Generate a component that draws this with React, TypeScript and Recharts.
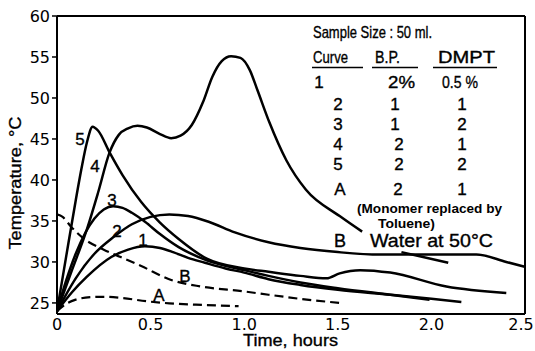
import React from 'react';
import { LineChart, Line, XAxis, YAxis } from 'recharts';

// time (hours), temperature (°C)
const curve1: [number, number][] = [[0,24.0],[0.08,26.3],[0.16,28.2],[0.29,30.6],[0.38,31.5],[0.47,31.9],[0.55,31.7],[0.62,31.2],[0.7,30.5],[0.79,29.9],[0.9,29.2],[1.0,28.7],[1.13,27.9],[1.3,27.2],[1.5,26.6],[1.78,26.0],[2.0,25.5],[2.16,25.1]];
const curve2: [number, number][] = [[0,24.0],[0.1,28.0],[0.2,31.0],[0.3,33.0],[0.4,34.6],[0.5,35.5],[0.6,35.8],[0.7,35.6],[0.81,34.9],[0.95,33.6],[1.13,32.4],[1.3,31.7],[1.5,31.2],[1.72,30.9],[2.0,30.9],[2.24,30.9],[2.4,30.0],[2.5,29.4]];
const curve3: [number, number][] = [[0,24.0],[0.05,27.8],[0.1,31.0],[0.15,33.5],[0.2,35.3],[0.25,36.4],[0.3,36.8],[0.35,36.6],[0.4,36.0],[0.47,34.9],[0.55,33.4],[0.65,31.8],[0.8,30.2],[1.0,29.0],[1.13,28.3],[1.3,27.5],[1.5,26.8],[1.78,26.0],[1.99,25.4]];
const curve4: [number, number | null][] = [[0,24.0],[0.08,29.0],[0.16,34.0],[0.22,38.5],[0.28,43.3],[0.33,45.5],[0.38,46.3],[0.43,46.6],[0.48,46.4],[0.55,45.6],[0.61,45.1],[0.66,45.4],[0.72,46.7],[0.78,49.5],[0.83,52.6],[0.88,54.5],[0.93,55.1],[0.98,54.9],[1.03,53.4],[1.07,51.0],[1.135,47.0],[1.225,42.4],[1.33,38.8],[1.51,35.6],[1.63,33.7],[1.72,null],[1.84,31.2],[2.09,29.9]];
const curve5: [number, number][] = [[0,24.0],[0.05,30.8],[0.1,37.5],[0.13,41.3],[0.16,44.6],[0.19,46.5],[0.22,46.0],[0.28,43.4],[0.35,40.6],[0.45,37.3],[0.55,34.8],[0.65,32.8],[0.8,30.4],[1.0,29.2],[1.13,28.8],[1.3,28.3],[1.44,28.0],[1.51,28.6],[1.62,29.0],[1.78,28.7],[2.08,27.0],[2.4,26.2]];
const curveA: [number, number][] = [[0,24.0],[0.05,24.9],[0.1,25.4],[0.18,25.7],[0.25,25.75],[0.35,25.6],[0.48,25.2],[0.6,24.95],[0.79,24.75],[0.97,24.6]];
const curveB: [number, number][] = [[0,35.8],[0.03,35.5],[0.075,34.3],[0.14,32.9],[0.25,31.5],[0.34,30.6],[0.45,29.5],[0.61,27.8],[0.77,27.0],[1.0,26.4],[1.13,26.0],[1.3,25.5],[1.51,25.0]];

const xTicks = [0, 0.5, 1, 1.5, 2, 2.5];
const xTickLabels = ['0', '0.5', '1.0', '1.5', '2.0', '2.5'];
const yTicks = [25, 30, 35, 40, 45, 50, 55, 60];

const toPts = (arr: [number, number | null][]) => arr.map(([t, T]) => ({ t, T }));

const solid = [curve1, curve2, curve3, curve4, curve5];
const dashed = [curveA, curveB];

const W = 535;
const H = 351;
const X_DOMAIN: [number, number] = [0, 2.5];
const Y_DOMAIN: [number, number] = [23.65, 60];

const tickFont = { fill: '#000', fontSize: 16, fontFamily: 'DejaVu Sans' };
const lineStyle = { stroke: '#000', strokeWidth: 2 };

const XTick = (props: any) => {
  const { x, y, payload, index } = props;
  const label = xTickLabels[xTicks.indexOf(payload.value)] ?? String(payload.value);
  const last = index === xTicks.length - 1;
  return (
    <text x={last ? x - 4 : x} y={y} dy="0.71em" textAnchor="middle" fill="#000" fontSize={16} fontFamily="DejaVu Sans">
      {label}
    </text>
  );
};

const T = (props: any) => (
  <text fontFamily="Liberation Sans, Arial, sans-serif" fontSize={17} fill="#000" stroke="#000" strokeWidth={0.35} {...props} />
);

export default function App() {
  return (
    <div style={{ position: 'absolute', left: 0, top: 0, width: W, height: H, background: '#fff' }}>
      <LineChart width={W} height={H} margin={{ top: 16, right: 10, bottom: 0, left: 0 }}>
        <XAxis
          xAxisId="x"
          dataKey="t"
          type="number"
          domain={X_DOMAIN}
          ticks={xTicks}
          allowDataOverflow
          tickSize={0}
          tickMargin={5}
          height={37}
          axisLine={lineStyle}
          tickLine={false}
          tick={<XTick />}
        />
        <XAxis
          xAxisId="xb"
          dataKey="t"
          type="number"
          domain={X_DOMAIN}
          ticks={xTicks}
          allowDataOverflow
          mirror
          tick={false}
          axisLine={false}
          tickLine={{ stroke: '#000', strokeWidth: 1.5 }}
          tickSize={5}
        />
        <XAxis
          xAxisId="xt"
          orientation="top"
          dataKey="t"
          type="number"
          domain={X_DOMAIN}
          ticks={xTicks}
          allowDataOverflow
          mirror
          tick={false}
          axisLine={lineStyle}
          tickLine={{ stroke: '#000', strokeWidth: 1.5 }}
          tickSize={5}
        />
        <YAxis
          yAxisId="y"
          type="number"
          domain={Y_DOMAIN}
          ticks={yTicks}
          allowDataOverflow
          width={57}
          tickSize={5}
          tickMargin={2}
          axisLine={lineStyle}
          tickLine={{ stroke: '#000', strokeWidth: 1.5 }}
          tick={tickFont}
        />
        <YAxis
          yAxisId="yr"
          orientation="right"
          type="number"
          domain={Y_DOMAIN}
          ticks={yTicks}
          allowDataOverflow
          mirror
          tick={false}
          axisLine={lineStyle}
          tickLine={{ stroke: '#000', strokeWidth: 1.5 }}
          tickSize={5}
        />
        {solid.map((c, i) => (
          <Line
            key={`s${i}`}
            xAxisId="x"
            yAxisId="y"
            data={toPts(c)}
            dataKey="T"
            type="monotone"
            stroke="#000"
            strokeWidth={2.5}
            dot={false}
            connectNulls={false}
            isAnimationActive={false}
          />
        ))}
        {dashed.map((c, i) => (
          <Line
            key={`d${i}`}
            xAxisId="x"
            yAxisId="y"
            data={toPts(c)}
            dataKey="T"
            type="monotone"
            stroke="#000"
            strokeWidth={2.2}
            strokeDasharray="9 5"
            dot={false}
            isAnimationActive={false}
          />
        ))}
      </LineChart>
      <svg width={W} height={H} style={{ position: 'absolute', left: 0, top: 0, pointerEvents: 'none' }}>
        {/* axis titles */}
        <T x={0} y={0} textAnchor="middle" textLength={133} lengthAdjust="spacingAndGlyphs"
          transform="translate(21,183) rotate(-90)">Temperature, °C</T>
        <T x={243} y={346} textLength={95} lengthAdjust="spacingAndGlyphs">Time, hours</T>

        {/* curve labels */}
        <T x={80} y={145} textAnchor="middle">5</T>
        <T x={95} y={172} textAnchor="middle">4</T>
        <T x={112} y={206} textAnchor="middle">3</T>
        <T x={117} y={237} textAnchor="middle">2</T>
        <T x={143} y={246} textAnchor="middle">1</T>
        <T x={185} y={282} textAnchor="middle">B</T>
        <T x={159} y={301} textAnchor="middle">A</T>

        {/* table */}
        <T x={313} y={38} textLength={119} lengthAdjust="spacingAndGlyphs">Sample Size : 50 ml.</T>
        <T x={313} y={63} textLength={35} lengthAdjust="spacingAndGlyphs">Curve</T>
        <T x={375} y={63} textLength={25} lengthAdjust="spacingAndGlyphs">B.P.</T>
        <T x={438} y={63} textLength={57} lengthAdjust="spacingAndGlyphs">DMPT</T>
        <line x1={312} x2={363} y1={67.5} y2={67.5} stroke="#000" strokeWidth={1.5} />
        <line x1={372} x2={418} y1={67.5} y2={67.5} stroke="#000" strokeWidth={1.5} />
        <line x1={433} x2={497} y1={67.5} y2={67.5} stroke="#000" strokeWidth={1.5} />

        <T x={319} y={88} textAnchor="middle">1</T>
        <T x={388} y={88} textLength={27} lengthAdjust="spacingAndGlyphs">2%</T>
        <T x={442} y={88} textLength={36} lengthAdjust="spacingAndGlyphs">0.5 %</T>

        <T x={338} y={110} textAnchor="middle">2</T>
        <T x={395} y={110} textAnchor="middle">1</T>
        <T x={462} y={110} textAnchor="middle">1</T>

        <T x={338} y={130} textAnchor="middle">3</T>
        <T x={395} y={130} textAnchor="middle">1</T>
        <T x={462} y={130} textAnchor="middle">2</T>

        <T x={338} y={150} textAnchor="middle">4</T>
        <T x={399} y={150} textAnchor="middle">2</T>
        <T x={462} y={150} textAnchor="middle">1</T>

        <T x={338} y={170} textAnchor="middle">5</T>
        <T x={399} y={170} textAnchor="middle">2</T>
        <T x={462} y={170} textAnchor="middle">2</T>

        <T x={340} y={195} textAnchor="middle">A</T>
        <T x={398} y={195} textAnchor="middle">2</T>
        <T x={462} y={195} textAnchor="middle">1</T>

        <T x={357} y={213} fontSize={13} fontWeight="bold" strokeWidth={0} textLength={145} lengthAdjust="spacingAndGlyphs">(Monomer replaced by</T>
        <T x={378} y={228} fontSize={13} fontWeight="bold" strokeWidth={0} textLength={57} lengthAdjust="spacingAndGlyphs">Toluene)</T>

        <T x={340} y={247} fontSize={18} textAnchor="middle">B</T>
        <T x={370} y={247} fontSize={18} textLength={123} lengthAdjust="spacingAndGlyphs">Water at 50°C</T>
      </svg>
    </div>
  );
}
